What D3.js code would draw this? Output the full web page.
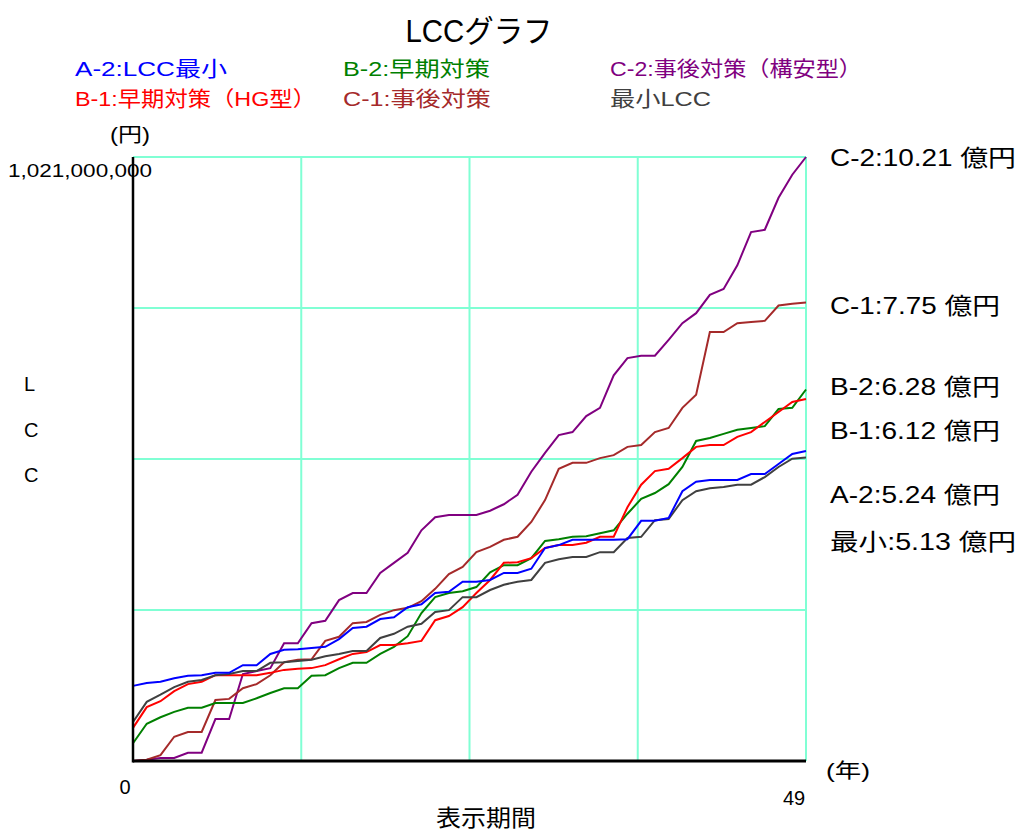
<!DOCTYPE html>
<html>
<head>
<meta charset="utf-8">
<script src="https://cdn.jsdelivr.net/npm/d3@7"></script>
<style>
  body { margin: 0; background: #fff; }
  svg text { font-family: "Liberation Sans", "Noto Sans CJK JP", sans-serif; }
</style>
</head>
<body>
<div id="chart"></div>
<script>
// years 0..49, values in 億円
const years = d3.range(0, 50);

const a2 = [1.27,1.32,1.34,1.40,1.44,1.45,1.49,1.49,1.62,1.62,1.81,1.88,1.89,1.91,1.93,2.06,2.25,2.27,2.40,2.43,
  2.60,2.65,2.84,2.86,3.03,3.03,3.06,3.18,3.18,3.25,3.60,3.65,3.74,3.74,3.74,3.74,3.75,4.06,4.06,4.11,
  4.56,4.72,4.75,4.75,4.75,4.85,4.85,5.02,5.19,5.24];
const minLcc = [0.66,1.00,1.12,1.25,1.34,1.37,1.45,1.47,1.52,1.52,1.66,1.67,1.69,1.71,1.77,1.81,1.86,1.86,2.08,2.15,
  2.27,2.32,2.52,2.55,2.77,2.77,2.89,2.98,3.03,3.06,3.35,3.41,3.45,3.45,3.53,3.53,3.77,3.79,4.07,4.09,
  4.41,4.56,4.61,4.63,4.67,4.67,4.80,4.97,5.11,5.13];
const b1 = [0.56,0.91,1.01,1.18,1.30,1.34,1.45,1.45,1.45,1.45,1.49,1.54,1.56,1.57,1.62,1.72,1.81,1.84,1.96,1.96,
  1.99,2.03,2.38,2.45,2.60,2.84,3.06,3.35,3.36,3.43,3.60,3.65,3.65,3.69,3.79,3.79,4.29,4.67,4.90,4.94,
  5.12,5.31,5.34,5.34,5.48,5.56,5.73,5.90,6.07,6.12];
const b2 = [0.30,0.63,0.74,0.83,0.90,0.90,0.98,0.98,0.98,1.06,1.15,1.23,1.23,1.44,1.45,1.57,1.66,1.66,1.81,1.93,
  2.11,2.50,2.77,2.84,2.87,2.94,3.19,3.31,3.31,3.43,3.72,3.75,3.79,3.80,3.85,3.90,4.18,4.43,4.53,4.68,
  4.97,5.41,5.46,5.53,5.60,5.63,5.66,5.95,5.97,6.28];
const c1 = [0.00,0.02,0.10,0.41,0.49,0.49,1.03,1.05,1.23,1.30,1.45,1.67,1.71,1.72,2.03,2.10,2.33,2.35,2.47,2.55,
  2.59,2.70,2.91,3.16,3.28,3.53,3.62,3.74,3.79,4.04,4.41,4.94,5.04,5.04,5.12,5.17,5.31,5.34,5.56,5.63,
  5.97,6.19,7.25,7.25,7.40,7.42,7.44,7.70,7.73,7.75];
const c2 = [0.00,0.02,0.05,0.05,0.14,0.14,0.71,0.71,1.47,1.52,1.57,1.99,1.99,2.33,2.37,2.72,2.84,2.84,3.18,3.35,
  3.52,3.90,4.12,4.16,4.16,4.16,4.23,4.34,4.50,4.89,5.21,5.51,5.56,5.83,5.97,6.52,6.81,6.85,6.85,7.12,
  7.40,7.57,7.88,7.98,8.38,8.94,8.98,9.52,9.91,10.21];

const seriesNames = ["A-2:LCC最小", "B-2:早期対策", "C-2:事後対策（構安型）", "B-1:早期対策（HG型）", "C-1:事後対策", "最小LCC"];
const seriesColors = ["#0000ff", "#008000", "#800080", "#ff0000", "#a52a2a", "#404040"];
const seriesValues = [a2, b2, c2, b1, c1, minLcc];
const legendWidths = [152, 147, 252, 241, 148, 101];

const endLabels = ["C-2:10.21 億円", "C-1:7.75 億円", "B-2:6.28 億円", "B-1:6.12 億円", "A-2:5.24 億円", "最小:5.13 億円"];
const endLabelY = [157, 305, 386, 430, 494, 541];

const yMax = 10.21;

const svg = d3.select("#chart").append("svg")
    .attr("width", 1021)
    .attr("height", 832);

const x = d3.scaleLinear().domain([0, 49]).range([133, 806]);
const y = d3.scaleLinear().domain([0, yMax]).range([761, 157]);

// grid
const gridColor = "#80ffd4";
[1, 2, 3, 4].forEach(k => {
    svg.append("line")
        .attr("x1", x(0)).attr("x2", x(49))
        .attr("y1", y(yMax * k / 4)).attr("y2", y(yMax * k / 4))
        .attr("stroke", gridColor).attr("stroke-width", 2);
    svg.append("line")
        .attr("x1", x(49 * k / 4)).attr("x2", x(49 * k / 4))
        .attr("y1", y(0)).attr("y2", y(yMax))
        .attr("stroke", gridColor).attr("stroke-width", 2);
});

// lines (draw order so blue sits on top)
const line = d3.line().x((d, i) => x(years[i])).y(d => y(d));
const drawOrder = [2, 4, 1, 3, 5, 0];
drawOrder.forEach(i => {
    svg.append("path")
        .datum(seriesValues[i])
        .attr("d", line)
        .attr("fill", "none")
        .attr("stroke", seriesColors[i])
        .attr("stroke-width", 2);
});

// axes
svg.append("line")
    .attr("x1", x(0)).attr("x2", x(0))
    .attr("y1", y(yMax)).attr("y2", y(0) + 1.5)
    .attr("stroke", "#000").attr("stroke-width", 2.5);
svg.append("line")
    .attr("x1", x(0)).attr("x2", x(49))
    .attr("y1", y(0)).attr("y2", y(0))
    .attr("stroke", "#000").attr("stroke-width", 3);

// title
svg.append("text")
    .attr("x", 479).attr("y", 42)
    .attr("text-anchor", "middle")
    .attr("font-size", 31)
    .attr("textLength", 147)
    .attr("lengthAdjust", "spacingAndGlyphs")
    .attr("fill", "#000")
    .text("LCCグラフ");

// legend
const legendX = [75, 343, 610];
const legendY = [76, 106];
seriesNames.forEach((name, i) => {
    svg.append("text")
        .attr("x", legendX[i % 3])
        .attr("y", legendY[Math.floor(i / 3)])
        .attr("font-size", 21)
        .attr("textLength", legendWidths[i])
        .attr("lengthAdjust", "spacingAndGlyphs")
        .attr("fill", seriesColors[i])
        .text(name);
});

// y axis labels
svg.append("text")
    .attr("x", 110).attr("y", 142)
    .attr("font-size", 20)
    .attr("textLength", 40)
    .attr("lengthAdjust", "spacingAndGlyphs")
    .text("(円)");
svg.append("text")
    .attr("x", 8).attr("y", 177)
    .attr("font-size", 19)
    .attr("textLength", 144)
    .attr("lengthAdjust", "spacingAndGlyphs")
    .text(d3.format(",")(Math.round(yMax * 1e8)));
["L", "C", "C"].forEach((c, i) => {
    svg.append("text")
        .attr("x", 24).attr("y", 391 + i * 45.5)
        .attr("font-size", 20)
        .text(c);
});

// x axis labels
svg.append("text")
    .attr("x", x(0) - 8).attr("y", 794)
    .attr("font-size", 20)
    .attr("text-anchor", "middle")
    .text("0");
svg.append("text")
    .attr("x", x(49) - 12).attr("y", 805)
    .attr("font-size", 20)
    .attr("text-anchor", "middle")
    .text("49");
svg.append("text")
    .attr("x", 826).attr("y", 778)
    .attr("font-size", 20)
    .attr("textLength", 44)
    .attr("lengthAdjust", "spacingAndGlyphs")
    .text("(年)");
svg.append("text")
    .attr("x", 486).attr("y", 826)
    .attr("font-size", 23)
    .attr("textLength", 100)
    .attr("lengthAdjust", "spacingAndGlyphs")
    .attr("text-anchor", "middle")
    .text("表示期間");

// end value labels
endLabels.forEach((t, i) => {
    svg.append("text")
        .attr("x", 830).attr("y", endLabelY[i] + 9)
        .attr("font-family", "\"Noto Sans CJK JP\", sans-serif")
        .attr("font-size", 23)
        .attr("textLength", t.startsWith("C-2") || t.startsWith("最小") ? 186 : 170)
        .attr("lengthAdjust", "spacingAndGlyphs")
        .text(t);
});
</script>
</body>
</html>
